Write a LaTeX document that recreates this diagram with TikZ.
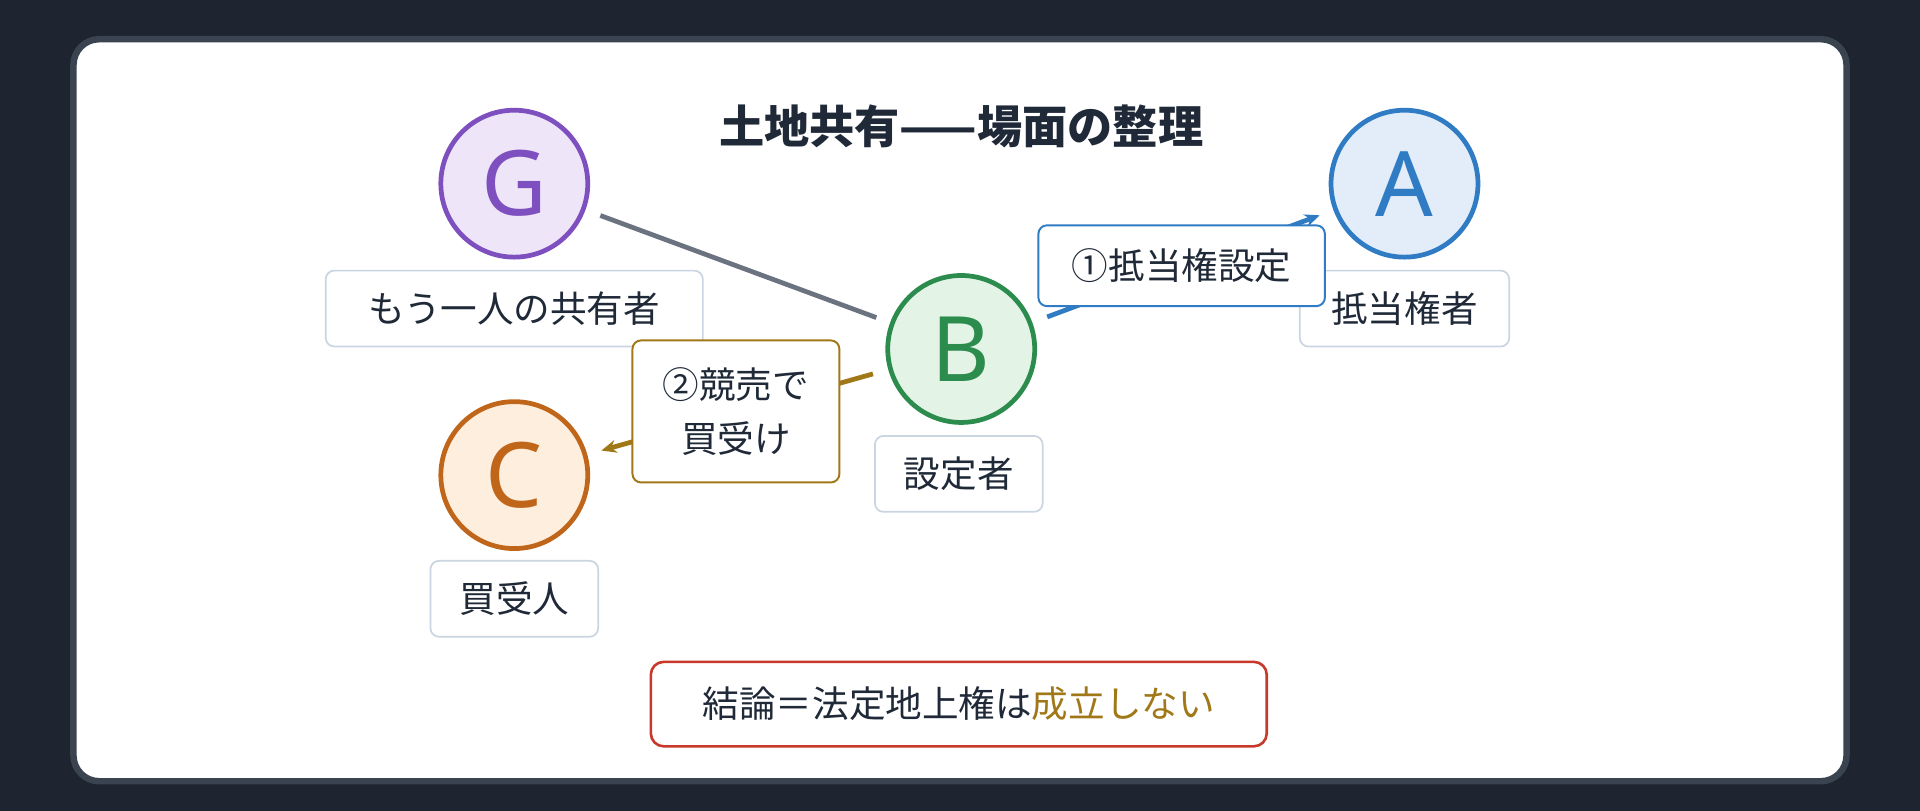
\documentclass[tikz,border=0pt]{standalone}
\usepackage{fontspec}
\setmainfont{Noto Sans CJK JP}
\newfontfamily\latinf{Noto Sans}
\usetikzlibrary{arrows.meta}
\definecolor{bgdark}{HTML}{1E2530}
\definecolor{cardline}{HTML}{3A4350}
\definecolor{ink}{HTML}{1F2937}
\definecolor{gfill}{HTML}{EFE5F8}\definecolor{gline}{HTML}{7E4FBF}
\definecolor{afill}{HTML}{E3EDF9}\definecolor{aline}{HTML}{2F7CC4}
\definecolor{bfill}{HTML}{E3F4E6}\definecolor{bline}{HTML}{2C8C4E}
\definecolor{cfill}{HTML}{FDEEDD}\definecolor{cline}{HTML}{C0661B}
\definecolor{brn}{HTML}{A07818}
\definecolor{redl}{HTML}{C8392B}
\definecolor{lblb}{HTML}{CBD5E1}
\definecolor{grayl}{HTML}{6B7280}
\begin{document}
\begin{tikzpicture}[x=0.02cm,y=-0.02cm,
  circ/.style={circle,minimum size=120*0.02cm,inner sep=0,line width=2.2pt,font=\latinf\fontsize{42}{42}\selectfont},
  lbl/.style={draw=lblb,line width=0.8pt,rounded corners=4pt,fill=white,text=ink,font=\fontsize{17}{20}\selectfont,minimum height=62*0.02cm,inner xsep=8pt},
  elbl/.style={fill=white,rounded corners=4pt,line width=0.9pt,text=ink,font=\fontsize{17}{25}\selectfont,align=center,inner sep=8pt},
  conn/.style={line width=2.2pt,shorten <=0.26cm,shorten >=0.24cm}]
\fill[bgdark] (0,0) rectangle (1568,662);
\draw[cardline,line width=3pt,fill=white,rounded corners=12pt] (60,32) rectangle (1508,638);
\node[font=\fontsize{21}{24}\selectfont\bfseries,text=ink] (title) at (785,103) {土地共有——場面の整理};
\node[circ,fill=gfill,draw=gline,text=gline] (G) at (420,150) {G};
\node[circ,fill=afill,draw=aline,text=aline] (A) at (1147,150) {A};
\node[circ,fill=bfill,draw=bline,text=bline] (B) at (785,285) {B};
\node[circ,fill=cfill,draw=cline,text=cline] (C) at (420,388) {C};
\node[lbl,minimum width=308*0.02cm] (lg) at (420,252) {もう一人の共有者};
\node[lbl,minimum width=171*0.02cm] (la) at (1147,252) {抵当権者};
\node[lbl,minimum width=137*0.02cm] (lb) at (783,387) {設定者};
\node[lbl,minimum width=137*0.02cm] (lc) at (420,489) {買受人};
\draw[conn,grayl] (G) -- (B);
\draw[conn,aline,-{Stealth[length=7pt,width=6pt]}] (B) -- (A);
\draw[conn,brn,-{Stealth[length=7pt,width=6pt]}] (B) -- (C);
\node[elbl,draw=aline,minimum width=234*0.02cm,minimum height=66*0.02cm] (ea) at (965,217) {①抵当権設定};
\node[elbl,draw=brn,minimum width=169*0.02cm,minimum height=116*0.02cm] (ec) at (601,336) {②競売で\\買受け};
\node[draw=redl,line width=1.2pt,rounded corners=6pt,fill=white,text=ink,font=\fontsize{17}{20}\selectfont,minimum width=503*0.02cm,minimum height=69*0.02cm] (concl) at (783,575) {結論＝法定地上権は\textcolor{brn}{成立しない}};
\end{tikzpicture}
\end{document}
